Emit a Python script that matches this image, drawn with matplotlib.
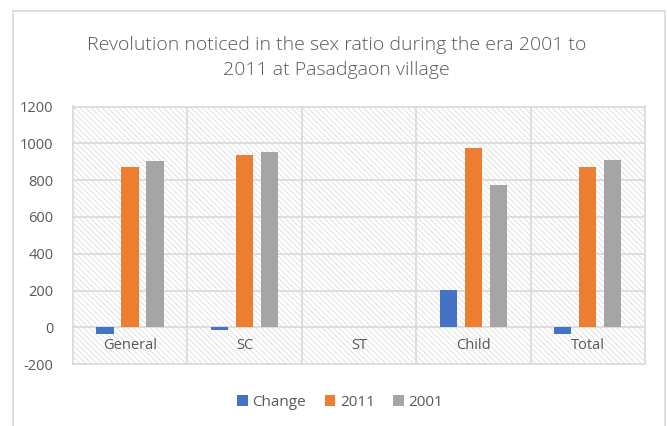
import matplotlib
matplotlib.use("Agg")
import matplotlib.pyplot as plt
from matplotlib.patches import Rectangle
import numpy as np

# ---------------------------------------------------------------------------
# Data
# ---------------------------------------------------------------------------

categories = ["General", "SC", "ST", "Child", "Total"]
change     = [-36, -15, 0, 203, -37]
ratio_2011 = [869, 939, 0, 974, 872]
ratio_2001 = [905, 954, 0, 771, 909]

series_names = ["Change", "2011", "2001"]
y_ticks      = [-200, 0, 200, 400, 600, 800, 1000, 1200]

title = "Revolution noticed in the sex ratio during the era 2001 to\n2011 at Pasadgaon village"

# ---------------------------------------------------------------------------
# Style
# ---------------------------------------------------------------------------

_COLORS = ["#4472C4", "#ED7D31", "#A5A5A5"]
_TEXT   = "#595959"
_GRID   = "#D9D9D9"

plt.rcParams["font.family"] = ["Open Sans", "DejaVu Sans"]
plt.rcParams["hatch.linewidth"] = 0.5

fig = plt.figure(figsize=(6.67, 4.26), dpi=100)
ax = fig.add_axes([0.109, 0.145, 0.858, 0.605])

# outer chart border (cut off at the bottom as in the screenshot)
fig.patches.append(Rectangle((13 / 667, -0.05), 652 / 667, 1.05 - 11 / 426,
                             transform=fig.transFigure, fill=False,
                             edgecolor=_GRID, linewidth=1.2))

# hatched plot background
ax.add_patch(Rectangle((0, 0), 1, 1, transform=ax.transAxes, facecolor="white",
                       hatch="\\" * 6, edgecolor="#D6D6D6", linewidth=0, zorder=0))

x = np.arange(len(categories))
offset = 0.218
width = 0.151
for i, (vals, name) in enumerate(zip([change, ratio_2011, ratio_2001], series_names)):
    ax.bar(x + (i - 1) * offset, vals, width, color=_COLORS[i], label=name, zorder=3)

ax.set_xlim(-0.5, len(categories) - 0.5)
ax.set_ylim(-200, 1200)
ax.set_yticks(y_ticks)
ax.set_yticklabels([str(t) for t in y_ticks], color=_TEXT, fontsize=10.5)
ax.tick_params(axis="y", length=0, pad=14)

# gridlines
for t in y_ticks[1:-1]:
    ax.axhline(t, color=_GRID, linewidth=1.2, zorder=1)
for b in np.arange(0.5, len(categories) - 0.5):
    ax.axvline(b, color=_GRID, linewidth=1.2, zorder=1)

ax.set_xticks([])
for xi, cat in zip(x, categories):
    ax.text(xi, -100, cat, ha="center", va="center", color=_TEXT, fontsize=10.5, zorder=4)

for s in ax.spines.values():
    s.set_color(_GRID)
    s.set_linewidth(1.2)

fig.text(0.505, 0.865, title, ha="center", va="center", color=_TEXT,
         fontsize=14, linespacing=1.45, fontweight="light")

fig.legend(loc="center", bbox_to_anchor=(0.51, 0.055), ncol=3, frameon=False,
           fontsize=11, handlelength=0.7, handleheight=0.7, handletextpad=0.3,
           columnspacing=1.2, labelcolor=_TEXT)

fig.savefig("out.png", dpi=100)
